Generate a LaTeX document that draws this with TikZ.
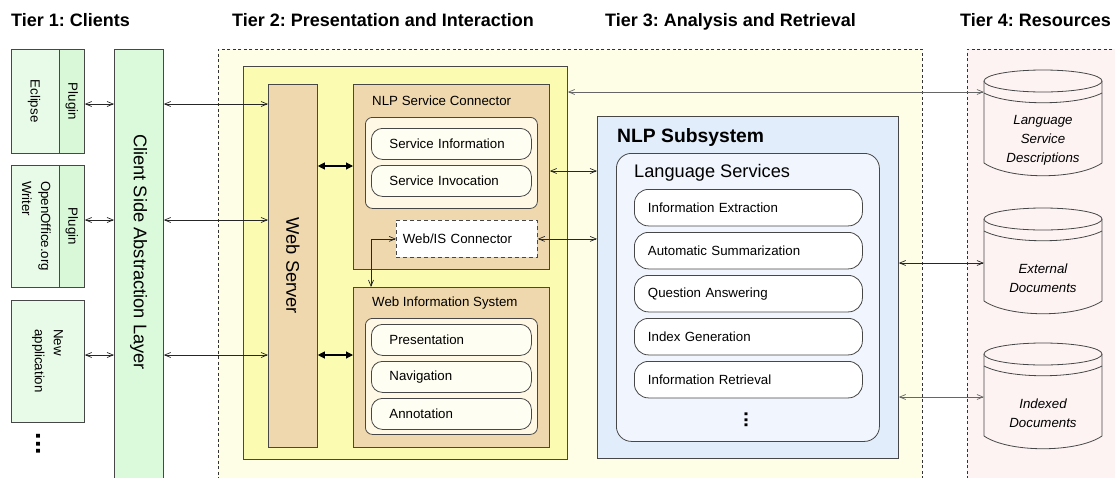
\documentclass[tikz,border=0pt]{standalone}
\usepackage{fontspec}
\setmainfont{Liberation Sans}
\usetikzlibrary{arrows.meta,calc}
\frenchspacing
\definecolor{regy}{HTML}{FEFEE7}
\definecolor{regp}{HTML}{FDF3F3}
\definecolor{yel}{HTML}{FBFBB2}
\definecolor{tanbox}{HTML}{EFD8AE}
\definecolor{cream}{HTML}{FFF8E4}
\definecolor{itemw}{HTML}{FFFEF2}
\definecolor{cgreen}{HTML}{E8FBE8}
\definecolor{pgreen}{HTML}{D8F8D8}
\definecolor{lgreen}{HTML}{DBFADB}
\definecolor{nlpblue}{HTML}{E2EDFC}
\definecolor{lsblue}{HTML}{F1F6FE}
\definecolor{edge}{HTML}{474747}
\newcommand\myfs[2]{\fontsize{#1}{#2}\selectfont}
\newcommand\dbshape[1]{%
  \path[draw=edge, line width=0.8pt, fill=regp] (984,#1+11) -- (984,#1+93)
     .. controls (1009,#1+110) and (1077,#1+110) .. (1102,#1+93) -- (1102,#1+11);
  \draw[edge, line width=0.8pt, fill=regp] (1043,#1+11) ellipse [x radius=59pt, y radius=11pt];
  \draw[edge, line width=0.8pt] (984,#1+23) .. controls (1009,#1+36) and (1077,#1+36) .. (1102,#1+23);
}
\begin{document}
\begin{tikzpicture}[x=1pt,y=-1pt,
  every node/.style={font=\myfs{13.3}{19}},
  bx/.style={draw=edge, line width=0.8pt, anchor=north west, inner sep=0pt},
  region/.style={bx, draw=black!80, line width=0.6pt, dash pattern=on 3pt off 2.5pt},
  head/.style={font=\bfseries\myfs{18}{22}, inner sep=0pt, anchor=base west},
  vtxt/.style={rotate=-90, inner sep=0pt, align=left},
  ttl/.style={anchor=base west, inner sep=0pt},
  sitem/.style={bx, fill=itemw, rounded corners=11pt, minimum height=31pt, text width=124pt, inner xsep=18pt, align=left},
  litem/.style={bx, fill=white, rounded corners=14pt, minimum height=36.5pt, text width=201pt, inner xsep=13.5pt, align=left},
  cyltxt/.style={font=\itshape\myfs{13.3}{19}, align=center, minimum width=118pt, inner sep=0pt},
  biarr/.style={draw=black!85, line width=0.7pt, <->, >={Straight Barb[length=6pt,width=5pt]}},
  fatarr/.style={draw=black, line width=1.1pt, {Triangle[length=7pt,width=7pt]}-{Triangle[length=7pt,width=7pt]}}
]
\useasboundingbox (0,0) rectangle (1115,477);
\fill[white] (0,0) rectangle (1115,477);

% regions
\node[region, fill=regy, minimum width=704pt, minimum height=441pt] (reg23) at (218,49) {};
\node[region, fill=regp, minimum width=160pt, minimum height=441pt] (reg4) at (967,49) {};

% headings
\node[head] (h1) at (11,26) {Tier 1: Clients};
\node[head] (h2) at (232,26) {Tier 2: Presentation and Interaction};
\node[head] (h3) at (605,26) {Tier 3: Analysis and Retrieval};
\node[head] (h4) at (960,26) {Tier 4: Resources};

% clients
\node[bx, fill=cgreen, minimum width=73pt, minimum height=104pt] (eclipse) at (11,49) {};
\node[bx, fill=pgreen, minimum width=25pt, minimum height=104pt] (eplug) at (59,49) {};
\node[vtxt] (eplugt) at (eplug.center) {Plugin};
\node[vtxt] (eclipset) at (34,101) {Eclipse};

\node[bx, fill=cgreen, minimum width=73pt, minimum height=122pt] (oo) at (11,165) {};
\node[bx, fill=pgreen, minimum width=25pt, minimum height=122pt] (ooplug) at (59,165) {};
\node[vtxt] (ooplugt) at (ooplug.center) {Plugin};
\node[vtxt] (oot) at (36.5,226) {OpenOffice.org\\Writer};

\node[bx, fill=cgreen, minimum width=73pt, minimum height=122pt] (newapp) at (11,300) {};
\node[vtxt] (newappt) at (47.5,361) {New\\application};
\node[vtxt, font=\bfseries\myfs{27}{30}] (cdots) at (39,444) {...};

\node[bx, fill=lgreen, minimum width=49pt, minimum height=441pt] (csal) at (114,49) {};
\node[vtxt, font=\myfs{18.3}{22}] (csalt) at (138.5,252) {Client Side Abstraction Layer};

% tier 2
\node[bx, fill=yel, minimum width=324pt, minimum height=393pt] (t2box) at (243,66) {};
\node[bx, fill=tanbox, minimum width=49pt, minimum height=363pt] (ws) at (268,84) {};
\node[vtxt, font=\myfs{18.3}{22}] (wst) at (ws.center) {Web Server};

\node[bx, fill=tanbox, minimum width=196pt, minimum height=185pt] (nsc) at (353,84) {};
\node[ttl] (nsct) at (372,105) {NLP Service Connector};
\node[bx, fill=cream, rounded corners=7pt, minimum width=172pt, minimum height=91pt] (nscin) at (365,117) {};
\node[sitem] (si) at (371,128) {Service Information};
\node[sitem] (sinv) at (371,165) {Service Invocation};
\node[bx, fill=white, dash pattern=on 4pt off 3pt, minimum height=37pt, text width=128pt, inner xsep=6.5pt, align=left] (webis) at (396,220) {Web/IS Connector};

\node[bx, fill=tanbox, minimum width=196pt, minimum height=160pt] (wis) at (353,287) {};
\node[ttl] (wist) at (372,306.5) {Web Information System};
\node[bx, fill=cream, rounded corners=7pt, minimum width=172pt, minimum height=116pt] (wisin) at (365,318) {};
\node[sitem] (pres) at (371,324) {Presentation};
\node[sitem] (nav) at (371,361) {Navigation};
\node[sitem] (ann) at (371,398) {Annotation};

% tier 3
\node[bx, fill=nlpblue, minimum width=301pt, minimum height=342pt] (nlp) at (597,116) {};
\node[ttl, font=\bfseries\myfs{19.3}{23}] (nlpt) at (617,142) {NLP Subsystem};
\node[bx, fill=lsblue, rounded corners=15pt, minimum width=263pt, minimum height=288pt] (ls) at (616,153) {};
\node[ttl, font=\myfs{18.2}{22}] (lst) at (634,177.5) {Language Services};
\node[litem] (ie) at (634,189) {Information Extraction};
\node[litem] (as) at (634,232) {Automatic Summarization};
\node[litem] (qa) at (634,275) {Question Answering};
\node[litem] (ig) at (634,318) {Index Generation};
\node[litem] (ir) at (634,361) {Information Retrieval};
\node[vtxt, font=\bfseries\myfs{20}{22}] (lsdots) at (746,420) {...};

% tier 4
\dbshape{70}
\dbshape{208}
\dbshape{343}
\node[cyltxt] (cyl1) at (1043,140) {Language\\Service\\Descriptions};
\node[cyltxt] (cyl2) at (1043,278) {External\\Documents};
\node[cyltxt] (cyl3) at (1043,413) {Indexed\\Documents};

% connectors
\draw[biarr] (eclipse.east |- 0,104) -- (csal.west |- 0,104);
\draw[biarr] (oo.east |- 0,220) -- (csal.west |- 0,220);
\draw[biarr] (newapp.east |- 0,355) -- (csal.west |- 0,355);
\draw[biarr] (csal.east |- 0,104) -- (ws.west |- 0,104);
\draw[biarr] (csal.east |- 0,220) -- (ws.west |- 0,220);
\draw[biarr] (csal.east |- 0,355) -- (ws.west |- 0,355);
\draw[fatarr] (ws.east |- 0,166) -- (nsc.west |- 0,166);
\draw[fatarr] (ws.east |- 0,355) -- (wis.west |- 0,355);
\draw[biarr] (nsc.east |- 0,171) -- (nlp.west |- 0,171);
\draw[biarr] (webis.east) -- (nlp.west |- webis.east);
\draw[biarr] (webis.west) -| ([xshift=18pt]wis.north west);
\draw[biarr, draw=black!60] (t2box.east |- 0,92) -- (cyl1.west |- 0,92);
\draw[biarr] (nlp.east |- 0,263) -- (cyl2.west |- 0,263);
\draw[biarr, draw=black!60] (nlp.east |- 0,397) -- (cyl3.west |- 0,397);
\end{tikzpicture}
\end{document}
